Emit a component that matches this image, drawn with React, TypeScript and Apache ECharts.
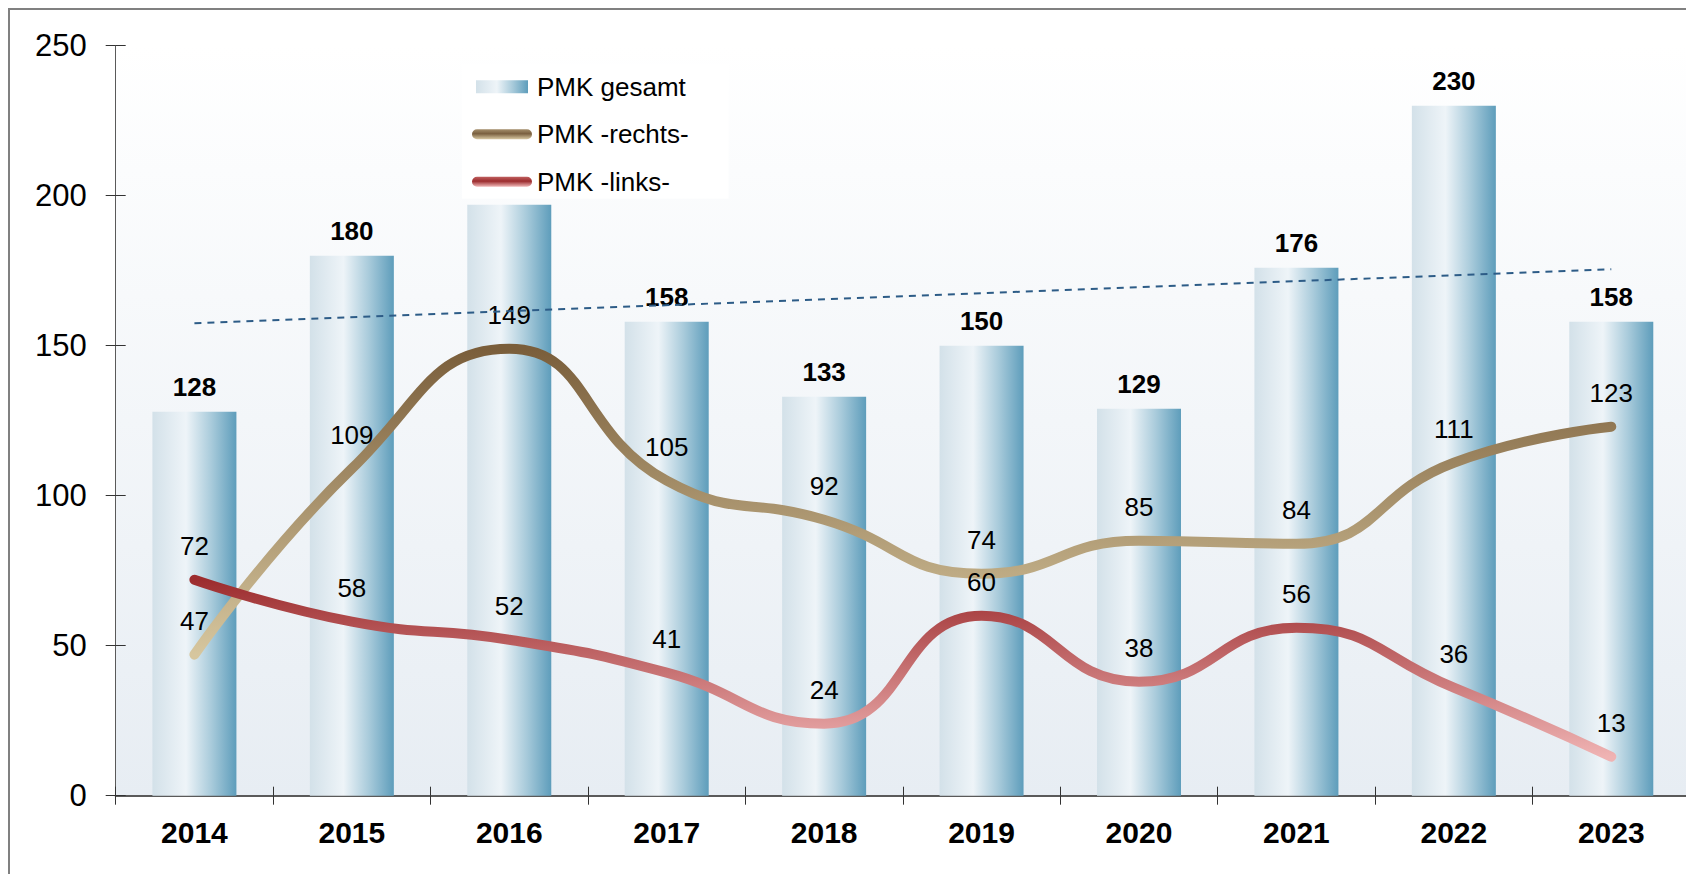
import React, { useEffect, useRef } from "react";
import * as echarts from "echarts";

const categories = ["2014", "2015", "2016", "2017", "2018", "2019", "2020", "2021", "2022", "2023"];
const gesamt = [128, 180, 197, 158, 133, 150, 129, 176, 230, 158];
const rechts = [47, 109, 149, 105, 92, 74, 85, 84, 111, 123];
const links = [72, 58, 52, 41, 24, 60, 38, 56, 36, 13];
const trendStartEnd = [157.5, 175.5];
const hiddenTotalLabels = ["2016"];
const seriesNames = ["PMK gesamt", "PMK -rechts-", "PMK -links-"];
const yMin = 0;
const yMax = 250;
const yInterval = 50;

const FONT = "'Liberation Sans', Arial, sans-serif";

export default function App() {
  const ref = useRef<HTMLDivElement>(null);

  useEffect(() => {
    if (!ref.current) return;
    const chart = echarts.init(ref.current, null, { renderer: "svg" });
    const G = echarts.graphic.LinearGradient;

    const barGrad = () =>
      new G(0, 0, 1, 0, [
        { offset: 0, color: "#d3e1e9" },
        { offset: 0.4, color: "#eef4f8" },
        { offset: 0.7, color: "#a9cbdb" },
        { offset: 1, color: "#5e9dbb" },
      ]);
    const rechtsGrad = () =>
      new G(0, 0, 0, 1, [
        { offset: 0, color: "#7a5e3b" },
        { offset: 1, color: "#d6c69e" },
      ]);
    const linksGrad = () =>
      new G(0, 0, 0, 1, [
        { offset: 0, color: "#9c2c2e" },
        { offset: 1, color: "#efb3b3" },
      ]);
    const rechtsLegendGrad = new G(0, 0, 0, 1, [
      { offset: 0, color: "#a58f6c" },
      { offset: 0.45, color: "#7a6040" },
      { offset: 1, color: "#d8c8a2" },
    ]);
    const linksLegendGrad = new G(0, 0, 0, 1, [
      { offset: 0, color: "#c06060" },
      { offset: 0.45, color: "#9c2c2e" },
      { offset: 1, color: "#f0b8b8" },
    ]);

    const lineIcon = "path://M5,0H55A5,5,0,0,1,55,10H5A5,5,0,0,1,5,0Z";

    const option: any = {
      animation: false,
      textStyle: { fontFamily: FONT },
      grid: {
        left: 105.7,
        top: 35.7,
        right: 4,
        bottom: 78.3,
        show: true,
        borderWidth: 0,
        backgroundColor: new G(0, 0, 0, 1, [
          { offset: 0, color: "#ffffff" },
          { offset: 1, color: "#e7edf3" },
        ]),
      },
      legend: {
        orient: "vertical",
        left: 452,
        top: 53.7,
        padding: [10, 40, 4, 10],
        backgroundColor: "rgba(255,255,255,0.85)",
        itemWidth: 60,
        itemHeight: 13,
        itemGap: 21.5,
        selectedMode: false,
        textStyle: { fontSize: 26, color: "#000", fontFamily: FONT },
        data: [
          { name: seriesNames[0], icon: "path://M0,0H52V13H0Z", itemStyle: { color: barGrad(), borderWidth: 0 } },
          { name: seriesNames[1], icon: lineIcon, itemStyle: { color: rechtsLegendGrad, borderWidth: 0 } },
          { name: seriesNames[2], icon: lineIcon, itemStyle: { color: linksLegendGrad, borderWidth: 0 } },
        ],
      },
      xAxis: [
        {
          type: "category",
          data: categories,
          position: "bottom",
          boundaryGap: true,
          axisLine: { show: true, lineStyle: { color: "#5a5a5a", width: 2 } },
          axisTick: { show: true, inside: false, length: 9, lineStyle: { color: "#333", width: 1 } },
          axisLabel: { fontSize: 30, fontWeight: "bold", color: "#000", margin: 22, fontFamily: FONT },
          splitLine: { show: false },
        },
        {
          type: "category",
          data: categories,
          position: "bottom",
          boundaryGap: true,
          axisLine: { show: false },
          axisTick: { show: true, inside: true, length: 9, lineStyle: { color: "#333", width: 1 } },
          axisLabel: { show: false },
          splitLine: { show: false },
        },
      ],
      yAxis: [
        {
          type: "value",
          min: yMin,
          max: yMax,
          interval: yInterval,
          position: "left",
          axisLine: { show: true, lineStyle: { color: "#5a5a5a", width: 1 } },
          axisTick: { show: true, inside: false, length: 10, lineStyle: { color: "#333", width: 1 } },
          axisLabel: { fontSize: 31, color: "#000", margin: 29, fontFamily: FONT },
          splitLine: { show: false },
        },
        {
          type: "value",
          min: yMin,
          max: yMax,
          interval: yInterval,
          position: "left",
          axisLine: { show: false },
          axisTick: { show: true, inside: true, length: 10, lineStyle: { color: "#333", width: 1 } },
          axisLabel: { show: false },
          splitLine: { show: false },
        },
      ],
      series: [
        {
          name: seriesNames[0],
          type: "bar",
          barWidth: 84,
          itemStyle: { color: barGrad() },
          label: {
            show: true,
            position: "top",
            distance: 12,
            fontSize: 26,
            fontWeight: "bold",
            color: "#000",
            fontFamily: FONT,
          },
          data: gesamt.map((v, i) =>
            hiddenTotalLabels.includes(categories[i]) ? { value: v, label: { show: false } } : v
          ),
          markLine: {
            silent: true,
            symbol: ["none", "none"],
            label: { show: false },
            lineStyle: { color: "#2d5c87", width: 2, type: [7, 6] },
            data: [
              [
                { coord: [categories[0], trendStartEnd[0]] },
                { coord: [categories[categories.length - 1], trendStartEnd[1]] },
              ],
            ],
          },
        },
        {
          name: seriesNames[1],
          type: "line",
          smooth: 0.5,
          symbol: "circle",
          symbolSize: 1,
          showSymbol: true,
          itemStyle: { color: "rgba(0,0,0,0)" },
          lineStyle: { color: rechtsGrad(), width: 10, cap: "round", join: "round" },
          label: { show: true, position: "top", distance: 20, fontSize: 26, color: "#000", fontFamily: FONT },
          data: rechts,
          z: 3,
        },
        {
          name: seriesNames[2],
          type: "line",
          smooth: 0.5,
          symbol: "circle",
          symbolSize: 1,
          showSymbol: true,
          itemStyle: { color: "rgba(0,0,0,0)" },
          lineStyle: { color: linksGrad(), width: 10, cap: "round", join: "round" },
          label: { show: true, position: "top", distance: 20, fontSize: 26, color: "#000", fontFamily: FONT },
          data: links,
          z: 4,
        },
      ],
    };

    chart.setOption(option);
    return () => chart.dispose();
  }, []);

  return (
    <div
      style={{
        width: 1686,
        height: 866,
        boxSizing: "border-box",
        borderTop: "2px solid #808080",
        borderLeft: "2px solid #808080",
        overflow: "hidden",
        background: "#ffffff",
      }}
    >
      <div ref={ref} style={{ width: 1684, height: 864 }} />
    </div>
  );
}
